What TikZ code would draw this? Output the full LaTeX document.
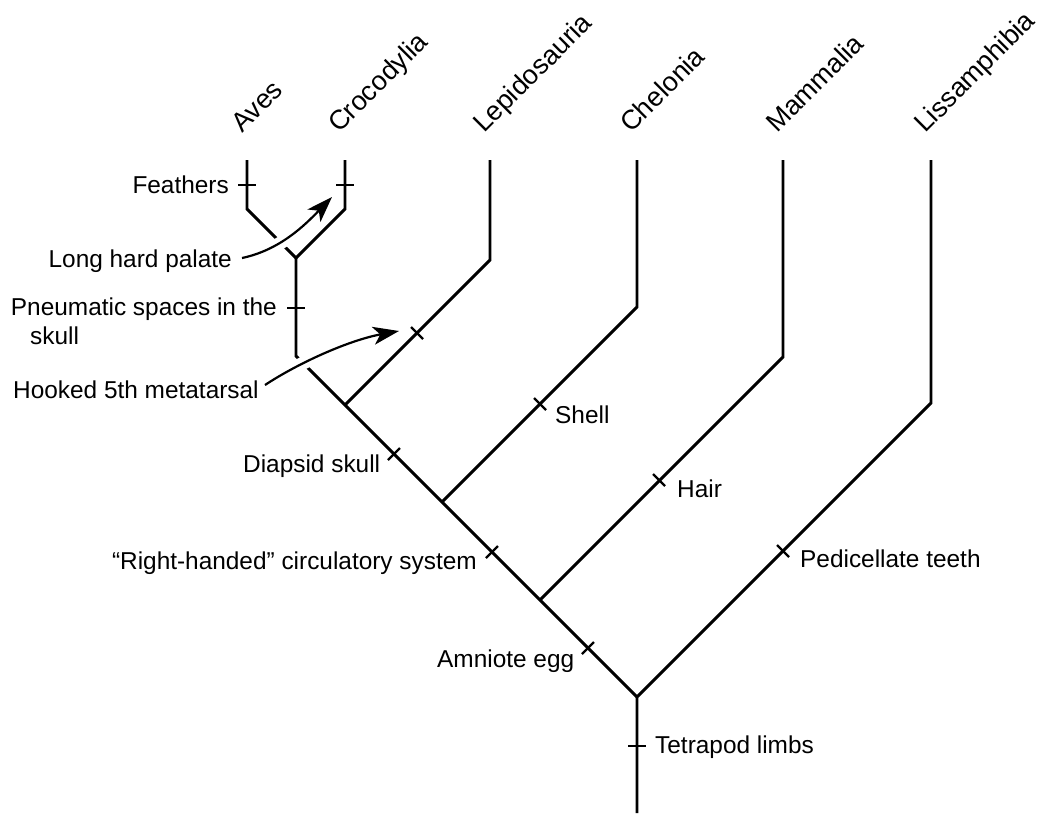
\documentclass[tikz,border=0pt]{standalone}
\usepackage{fontspec}
\setmainfont{Liberation Sans}
\usetikzlibrary{arrows.meta}
\begin{document}
\begin{tikzpicture}[x=1pt,y=-1pt,
  branch/.style={line width=2.9pt, line join=miter},
  tick/.style={line width=2.2pt},
  lab/.style={inner sep=0pt, font=\fontsize{24.4}{29}\selectfont},
  taxon/.style={inner sep=0pt, rotate=45, anchor=base west, font=\fontsize{27}{31}\selectfont},
  callout/.style={line width=2.2pt, -{Stealth[length=26pt,width=18pt,inset=7pt]}},
  halo/.style={line width=13pt, white}]
\useasboundingbox (0,0) rectangle (1053,814);
% coordinates
\coordinate (bot) at (637,813);
\coordinate (n0) at (637,697);
\coordinate (liss) at (931,403);
\coordinate (lissT) at (931,160);
\coordinate (n1) at (540,600);
\coordinate (mamm) at (783,357);
\coordinate (mammT) at (783,160);
\coordinate (n2) at (442,502);
\coordinate (chel) at (637,307);
\coordinate (chelT) at (637,160);
\coordinate (n3) at (345,405);
\coordinate (lepi) at (490,260);
\coordinate (lepiT) at (490,160);
\coordinate (n4) at (296,356);
\coordinate (n5) at (296,258);
\coordinate (croc) at (345,209);
\coordinate (crocT) at (345,160);
\coordinate (aves) at (247,209);
\coordinate (avesT) at (247,160);
% branches
\draw[branch] (bot) -- (n0) -- (liss) -- (lissT);
\draw[branch] (n0) -- (n1) -- (n2) -- (n3) -- (n4) -- (n5);
\draw[branch] (n1) -- (mamm) -- (mammT);
\draw[branch] (n2) -- (chel) -- (chelT);
\draw[branch] (n3) -- (lepi) -- (lepiT);
\draw[branch] (n5) -- (croc) -- (crocT);
\draw[branch] (n5) -- (aves) -- (avesT);
% ticks
\draw[tick] (628,746) -- (646,746);
\draw[tick] (582,654) -- (594,642);
\draw[tick] (486,558) -- (498,546);
\draw[tick] (388,460) -- (400,448);
\draw[tick] (534,398) -- (546,410);
\draw[tick] (653,474) -- (665,486);
\draw[tick] (777,545) -- (789,557);
\draw[tick] (411,327) -- (423,339);
\draw[tick] (287,308) -- (305,308);
\draw[tick] (238,185) -- (256,185);
\draw[tick] (336,185) -- (354,185);
% taxon labels
\node[taxon] (tA) at (242,134) {Aves};
\node[taxon] (tC) at (339,134) {Crocodylia};
\node[taxon] (tL) at (484,134) {Lepidosauria};
\node[taxon] (tCh) at (631,134) {Chelonia};
\node[taxon] (tM) at (777,134) {Mammalia};
\node[taxon] (tLi) at (925,134) {Lissamphibia};
% character labels
\node[lab, anchor=base east] (feat) at (229,193) {Feathers};
\node[lab, anchor=base east] (palate) at (232,267) {Long hard palate};
\node[lab, anchor=base east] (pneu) at (277,315) {Pneumatic spaces in the};
\node[lab, anchor=base west] (pneu2) at (30,344) {skull};
\node[lab, anchor=base west] (hook) at (13,398) {Hooked 5th metatarsal};
\node[lab, anchor=base west] (diap) at (243,472) {Diapsid skull};
\node[lab, anchor=base west] (shell) at (555,423) {Shell};
\node[lab, anchor=base east] (circ) at (477,569) {“Right-handed” circulatory system};
\node[lab, anchor=base west] (hair) at (677,497) {Hair};
\node[lab, anchor=base west] (ped) at (800,567) {Pedicellate teeth};
\node[lab, anchor=base west] (amn) at (437,667) {Amniote egg};
\node[lab, anchor=base west] (tetra) at (655,753) {Tetrapod limbs};
% callout arrows
\coordinate (pa) at (242,258);
\coordinate (pb) at (332,197);
\coordinate (ha) at (265,385);
\coordinate (hb) at (399,331);
\draw[halo, shorten <=4pt, shorten >=16pt] (pa) .. controls (280,250) and (305,225) .. (pb);
\draw[halo, shorten <=4pt, shorten >=16pt] (ha) .. controls (300,362) and (350,340) .. (hb);
\draw[callout] (pa) .. controls (280,250) and (305,225) .. (pb);
\draw[callout] (ha) .. controls (300,362) and (350,340) .. (hb);
\end{tikzpicture}
\end{document}
